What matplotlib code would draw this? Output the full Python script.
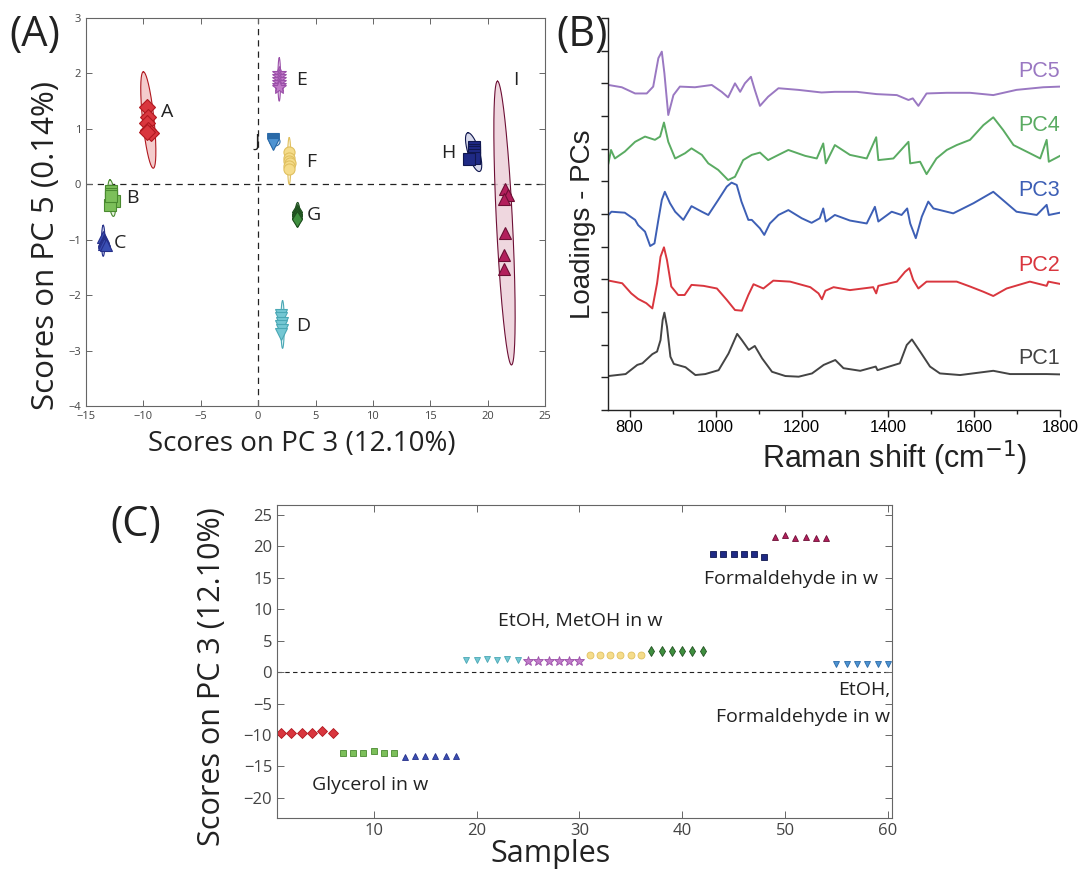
import numpy as np
import matplotlib
matplotlib.use('Agg')
import matplotlib.pyplot as plt

W, H = 1079, 875

# ---- scores (10 groups x 6 replicates) ----
group_names = ['A', 'B', 'C', 'D', 'E', 'F', 'G', 'H', 'I', 'J']
pc3_scores = [
    [-9.7, -9.6, -9.7, -9.6, -9.3, -9.7],
    [-12.8, -12.8, -12.8, -12.6, -12.9, -12.8],
    [-13.5, -13.4, -13.4, -13.4, -13.4, -13.3],
    [2.0, 2.0, 2.1, 2.0, 2.1, 2.0],
    [1.8, 1.8, 1.8, 1.8, 1.8, 1.8],
    [2.7, 2.7, 2.7, 2.8, 2.7, 2.7],
    [3.4, 3.4, 3.4, 3.4, 3.4, 3.4],
    [18.8, 18.8, 18.8, 18.8, 18.8, 18.4],
    [21.5, 21.8, 21.4, 21.5, 21.4, 21.4],
    [1.3, 1.3, 1.3, 1.3, 1.3, 1.3],
]
pc5_scores = [
    [1.40, 1.22, 1.10, 0.98, 0.92, 0.95],
    [-0.12, -0.18, -0.25, -0.30, -0.38, -0.22],
    [-0.95, -1.00, -1.02, -1.05, -1.08, -1.10],
    [-2.35, -2.42, -2.50, -2.56, -2.62, -2.70],
    [2.00, 1.95, 1.90, 1.85, 1.80, 1.75],
    [0.58, 0.48, 0.42, 0.38, 0.33, 0.28],
    [-0.50, -0.53, -0.56, -0.58, -0.60, -0.62],
    [0.68, 0.62, 0.58, 0.52, 0.48, 0.45],
    [-0.08, -0.20, -0.27, -0.88, -1.28, -1.52],
    [0.82, 0.80, 0.78, 0.77, 0.75, 0.73],
]
# confidence ellipses: centre x, centre y, half major axis (dx, dy), half width in x
ellipses = [
    (-9.57, 1.16, -0.43, 0.87, 0.50),
    (-12.76, -0.25, -0.15, 0.33, 0.30),
    (-13.50, -1.02, 0.00, 0.28, 0.15),
    (2.13, -2.53, 0.00, 0.43, 0.15),
    (1.84, 1.89, 0.00, 0.39, 0.12),
    (2.71, 0.42, 0.00, 0.42, 0.15),
    (3.44, -0.55, 0.00, 0.22, 0.20),
    (18.78, 0.58, -0.48, 0.35, 0.52),
    (21.47, -0.70, -0.61, 2.56, 0.70),
    (1.46, 0.77, 0.00, 0.08, 0.45),
]
label_pos = [(-7.9, 1.3), (-11.0, -0.25), (-12.0, -1.06), (3.9, -2.55), (3.75, 1.88),
             (4.6, 0.41), (4.9, -0.56), (16.56, 0.56), (22.46, 1.88), (-0.05, 0.77)]

markers = ['D', 's', '^', 'v', '*', 'o', 'd', 's', '^', 'v']
faces = ['#d9363e', '#7cbf5a', '#3a4fb3', '#74c7d3', '#c07ac8',
         '#f5dc8a', '#3f8f3f', '#1f2a85', '#b21f5c', '#4d93d2']
edges = ['#b0181f', '#4a8a30', '#26308a', '#4aa8b5', '#9a4fa8',
         '#e0c060', '#1f4f1f', '#10174f', '#6d0f35', '#2a6aa8']
fills = ['#f2c0c0', '#e3f0da', '#c5cbe8', '#cfeef2', '#ecd6ef',
         '#fbf0cc', '#c9e0c9', '#cdd0e6', '#ebcdd8', '#cde0f2']

# ---- loadings (offset stacked) ----
pc1_x = [751, 791, 818, 830, 853, 864, 872, 877, 881, 887, 895, 903, 930, 953, 976, 1007, 1030,
         1050, 1061, 1077, 1091, 1108, 1131, 1162, 1193, 1224, 1251, 1278, 1297, 1336, 1372,
         1376, 1428, 1444, 1456, 1475, 1498, 1521, 1568, 1645, 1684, 1769, 1800]
pc1_y = [0.04, 0.10, 0.38, 0.43, 0.71, 0.79, 1.14, 1.76, 1.98, 1.55, 0.63, 0.41, 0.31, 0.07,
         0.10, 0.22, 0.73, 1.33, 1.14, 0.84, 0.96, 0.58, 0.17, 0.04, 0.02, 0.12, 0.38, 0.53,
         0.28, 0.20, 0.33, 0.22, 0.43, 0.99, 1.16, 0.79, 0.33, 0.12, 0.07, 0.20, 0.10, 0.10, 0.09]
pc2_x = [752, 783, 804, 820, 839, 853, 864, 872, 880, 887, 897, 913, 928, 944, 972, 1003, 1026,
         1045, 1061, 1076, 1088, 1111, 1134, 1173, 1220, 1239, 1247, 1255, 1274, 1312, 1366,
         1373, 1378, 1421, 1440, 1450, 1459, 1471, 1490, 1560, 1591, 1622, 1645, 1676, 1730,
         1769, 1773, 1800]
pc2_y = [0.16, 0.08, -0.23, -0.40, -0.53, -0.69, 0.08, 0.89, 1.18, 0.79, -0.02, -0.28, -0.28,
         0.03, 0.00, -0.08, -0.43, -0.74, -0.76, -0.28, 0.05, -0.08, 0.16, 0.13, -0.04, -0.23,
         -0.41, -0.15, -0.04, -0.13, -0.04, -0.23, 0.00, 0.13, 0.43, 0.54, 0.18, -0.08, 0.13,
         0.13, -0.02, -0.18, -0.31, -0.08, 0.13, 0.00, 0.13, 0.06]
pc3_x = [751, 758, 789, 813, 820, 836, 848, 858, 867, 875, 882, 894, 906, 925, 944, 968, 983,
         1006, 1026, 1037, 1049, 1060, 1076, 1084, 1103, 1113, 1126, 1146, 1169, 1200, 1223,
         1242, 1250, 1256, 1277, 1312, 1351, 1370, 1378, 1409, 1432, 1445, 1452, 1465, 1479,
         1494, 1506, 1552, 1599, 1645, 1676, 1699, 1746, 1769, 1774, 1800]
pc3_y = [-0.03, 0.07, 0.04, -0.18, -0.34, -0.54, -0.98, -0.90, -0.18, 0.43, 0.68, 0.33, 0.07,
         -0.18, 0.24, 0.07, -0.03, 0.43, 0.84, 0.96, 0.89, 0.38, -0.18, -0.18, -0.44, -0.64,
         -0.29, -0.03, 0.12, -0.13, -0.27, -0.13, 0.17, -0.23, -0.03, -0.20, -0.29, 0.22,
         -0.23, 0.07, -0.03, 0.17, -0.29, -0.74, -0.08, 0.38, 0.17, 0.02, 0.33, 0.68, 0.33,
         0.07, -0.03, 0.28, -0.03, 0.04]
pc4_x = [751, 757, 766, 789, 813, 836, 859, 871, 880, 890, 906, 929, 944, 968, 983, 1006, 1029,
         1045, 1064, 1084, 1103, 1122, 1146, 1169, 1208, 1235, 1250, 1256, 1277, 1312, 1351,
         1373, 1378, 1413, 1448, 1452, 1475, 1490, 1513, 1537, 1560, 1591, 1622, 1645, 1668,
         1692, 1730, 1754, 1769, 1774, 1800]
pc4_y = [-0.15, 0.26, 0.00, 0.21, 0.51, 0.67, 0.57, 0.67, 1.10, 0.51, 0.00, 0.16, 0.31, 0.11,
         -0.15, -0.35, -0.66, -0.56, -0.05, 0.11, 0.18, -0.05, 0.11, 0.26, 0.08, 0.00, 0.46,
         -0.15, 0.41, 0.11, 0.00, 0.65, -0.05, 0.00, 0.51, -0.15, -0.10, -0.48, 0.00, 0.26,
         0.41, 0.57, 1.02, 1.26, 0.87, 0.41, 0.16, 0.00, 0.57, -0.10, 0.08]
pc5_x = [751, 782, 813, 840, 855, 867, 875, 881, 890, 902, 917, 952, 991, 1014, 1029, 1045,
         1057, 1068, 1082, 1091, 1103, 1122, 1146, 1192, 1246, 1277, 1328, 1374, 1421, 1448,
         1458, 1471, 1490, 1537, 1591, 1645, 1699, 1761, 1800]
pc5_y = [0.15, 0.08, -0.11, -0.11, 0.10, 0.97, 1.17, 0.51, -0.77, -0.16, 0.10, 0.08, 0.15,
         -0.06, -0.23, 0.20, -0.06, 0.20, 0.40, 0.00, -0.49, -0.21, 0.05, 0.00, -0.08, -0.06,
         -0.06, -0.13, -0.16, -0.31, -0.26, -0.49, -0.11, -0.09, -0.09, -0.16, 0.00, 0.08, 0.10]
pc_names = ['PC1', 'PC2', 'PC3', 'PC4', 'PC5']
pc_offsets = [1.0, 3.8, 6.0, 7.7, 9.8]
pc_label_y = [1.59, 4.42, 6.73, 8.72, 10.35]
pc_colors = ['#444444', '#d9363e', '#3d5fb5', '#5aab62', '#9a78c2']

sample_labels = [('Glycerol in w', 4.0, -18.0, 'left'),
                 ('EtOH, MetOH in w', 22.1, 8.2, 'left'),
                 ('Formaldehyde in w', 42.1, 14.9, 'left'),
                 ('EtOH,', 60.2, -2.9, 'right'),
                 ('Formaldehyde in w', 60.2, -7.2, 'right')]

MYR = ['Open Sans', 'DejaVu Sans']
ARI = ['Liberation Sans', 'DejaVu Sans']


def box(l, t, r, b):
    return [l / W, 1 - b / H, (r - l) / W, (b - t) / H]


def ftext(x, y, s, **kw):
    fig.text(x / W, 1 - y / H, s, ha='center', va='center', **kw)


fig = plt.figure(figsize=(W / 100, H / 100), dpi=100)

# ---------------- (A) score plot ----------------
ax = fig.add_axes(box(86, 18, 545, 406))
t = np.linspace(0, 2 * np.pi, 200)
for i, (cx, cy, mx, my, w) in enumerate(ellipses):
    ex = cx + mx * np.cos(t) + w * np.sin(t)
    ey = cy + my * np.cos(t)
    ax.fill(ex, ey, color=fills[i], alpha=0.8, lw=0, zorder=1)
    ax.plot(ex, ey, color=edges[i], lw=0.8, zorder=2)
for i in range(10):
    ax.plot(pc3_scores[i], pc5_scores[i], ls='none', marker=markers[i],
            ms=8 if markers[i] != '*' else 10,
            mfc=faces[i], mec=edges[i], mew=0.8, zorder=3)
    ax.text(label_pos[i][0], label_pos[i][1], group_names[i], ha='center', va='center',
            fontsize=14, family=MYR, color='#222222')
ax.axhline(0, color='#222222', ls=(0, (5, 4)), lw=0.9, zorder=0)
ax.axvline(0, color='#222222', ls=(0, (5, 4)), lw=0.9, zorder=0)
ax.set_xlim(-15, 25)
ax.set_ylim(-4, 3)
ax.set_xticks(range(-15, 26, 5))
ax.set_yticks(range(-4, 4))
ax.tick_params(direction='in', top=True, right=True, length=4, width=0.7,
               labelsize=8, labelcolor='#444444', color='#666666')
for lab in ax.get_xticklabels() + ax.get_yticklabels():
    lab.set_family(MYR)
for s in ax.spines.values():
    s.set_color('#666666')
    s.set_linewidth(0.8)
ftext(302, 444, 'Scores on PC 3 (12.10%)', fontsize=20, family=MYR, color='#222222')
ftext(46, 246, 'Scores on PC 5 (0.14%)', fontsize=22.5, family=MYR, color='#222222',
      rotation=90)
ftext(35, 35, '(A)', fontsize=30, family=MYR, color='#222222')

# ---------------- (B) loadings ----------------
bx = fig.add_axes(box(608, 18, 1060, 410))
pcs = [(pc1_x, pc1_y), (pc2_x, pc2_y), (pc3_x, pc3_y), (pc4_x, pc4_y), (pc5_x, pc5_y)]
for (xs, ys), off, name, ly, col in zip(pcs, pc_offsets, pc_names, pc_label_y, pc_colors):
    bx.plot(xs, np.array(ys) + off, color=col, lw=1.4)
    bx.text(1800, ly, name, ha='right', va='center', fontsize=15.5, family=ARI, color=col)
bx.set_xlim(750, 1800)
bx.set_ylim(0, 12)
bx.set_xticks(range(800, 1801, 200))
bx.set_xticks(range(800, 1801, 100), minor=True)
bx.set_yticks(range(0, 13))
bx.set_yticklabels([])
bx.spines['top'].set_visible(False)
bx.spines['right'].set_visible(False)
for s in ('left', 'bottom'):
    bx.spines[s].set_color('#222222')
    bx.spines[s].set_linewidth(1.0)
bx.tick_params(direction='out', length=5, width=1.0, labelsize=12, pad=2, color='#222222')
bx.tick_params(which='minor', direction='out', length=3, width=1.0, color='#222222')
for lab in bx.get_xticklabels():
    lab.set_family(ARI)
ftext(895, 458, 'Raman shift (cm$^{-1}$)', fontsize=22, family=ARI, color='#222222')
ftext(583, 224, 'Loadings - PCs', fontsize=20, family=ARI, color='#222222', rotation=90)
ftext(582, 35, '(B)', fontsize=30, family=MYR, color='#222222')

# ---------------- (C) PC3 scores by sample ----------------
cx_ = fig.add_axes(box(277, 505, 892, 818))
for i in range(10):
    samples = np.arange(1, 7) + 6 * i
    cx_.plot(samples, pc3_scores[i], ls='none', marker=markers[i],
             ms=5 if markers[i] != '*' else 7, mfc=faces[i], mec=edges[i], mew=0.6)
cx_.axhline(0, color='#222222', ls=(0, (4, 3)), lw=0.8, zorder=0)
for s, x, y, ha in sample_labels:
    cx_.text(x, y, s, ha=ha, va='center', fontsize=14, family=MYR, color='#222222')
cx_.set_xlim(0.6, 60.4)
cx_.set_ylim(-23.2, 26.6)
cx_.set_xticks(range(10, 61, 10))
cx_.set_yticks(range(-20, 26, 5))
cx_.tick_params(direction='in', top=True, right=True, length=5, width=0.7,
                labelsize=12, labelcolor='#444444', color='#666666')
for lab in cx_.get_xticklabels() + cx_.get_yticklabels():
    lab.set_family(MYR)
for s in cx_.spines.values():
    s.set_color('#666666')
    s.set_linewidth(0.8)
ftext(551, 854, 'Samples', fontsize=22, family=MYR, color='#222222')
ftext(212, 677, 'Scores on PC 3 (12.10%)', fontsize=22, family=MYR, color='#222222',
      rotation=90)
ftext(136, 525, '(C)', fontsize=30, family=MYR, color='#222222')

fig.savefig('out.png', dpi=100)
